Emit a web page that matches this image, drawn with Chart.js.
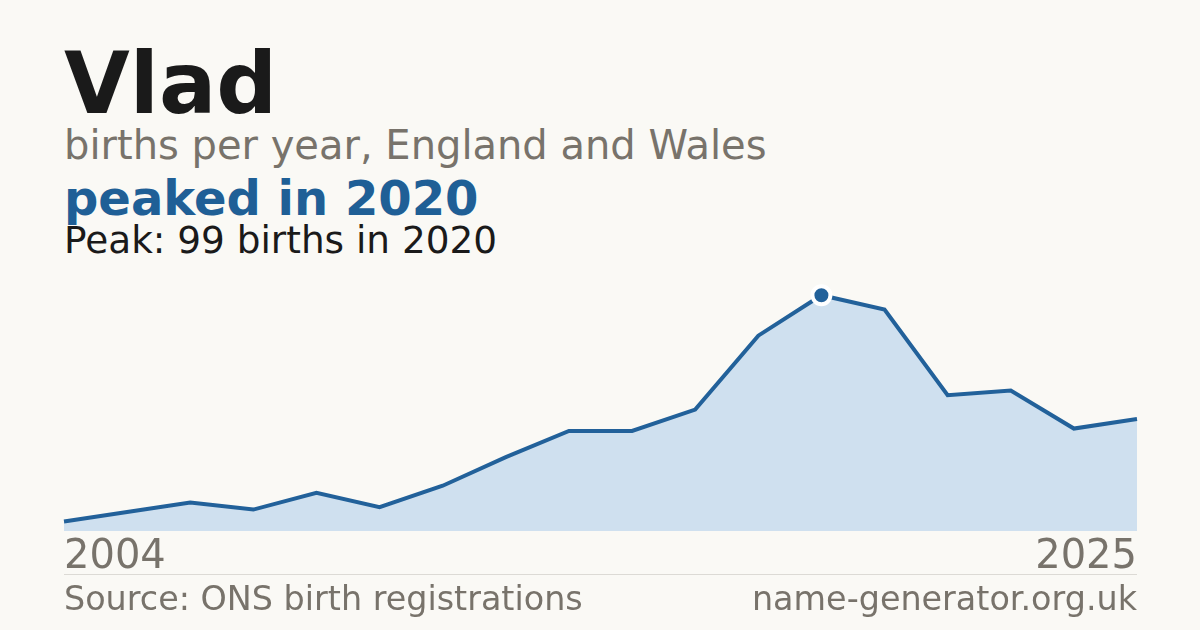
<!DOCTYPE html>
<html lang="en">
<head>
    <meta charset="UTF-8">
    <title>Vlad - births per year</title>
    <script src="https://cdn.jsdelivr.net/npm/chart.js"></script>
    <style>
        body { margin: 0; width: 1200px; height: 630px; background: #faf9f5; font-family: "DejaVu Sans", sans-serif; overflow: hidden; }
        .txt { position: absolute; left: 64px; line-height: 1; white-space: nowrap; }
        #title { top: 41px; font-size: 85px; font-weight: bold; color: #1a1a1a; }
        #subtitle { top: 125px; font-size: 40px; color: #78736b; }
        #headline { top: 174px; font-size: 48px; font-weight: bold; color: #1f5f96; }
        #peakline { top: 222px; font-size: 37.4px; color: #1a1a1a; }
        #rule { position: absolute; left: 64px; top: 574px; width: 1073px; height: 1px; background: #dcdad5; }
        #source { top: 582px; font-size: 33.4px; color: #78736b; }
        #site { top: 582px; left: auto; right: 63px; font-size: 33.4px; color: #78736b; }
        #chartBox { position: absolute; left: 61px; top: 269px; width: 1079px; height: 316px; }
    </style>
</head>
<body>
    <div id="title" class="txt">Vlad</div>
    <div id="subtitle" class="txt">births per year, England and Wales</div>
    <div id="headline" class="txt">peaked in 2020</div>
    <div id="peakline" class="txt">Peak: 99 births in 2020</div>

    <div id="chartBox"><canvas id="birthsChart"></canvas></div>

    <div id="rule"></div>
    <div id="source" class="txt">Source: ONS birth registrations</div>
    <div id="site" class="txt">name-generator.org.uk</div>

    <script>
        // years with published counts (gaps are suppressed years)
        const years = ['2004', '2009', '2010', '2011', '2012', '2013', '2014', '2015', '2016',
                       '2017', '2018', '2019', '2020', '2021', '2022', '2023', '2024', '2025'];
        const births = [4, 8, 12, 9, 16, 10, 19, 31, 42, 42, 51, 82, 99, 93, 57, 59, 43, 47];

        const lineBlue = '#22619a';
        const peakIdx = births.indexOf(Math.max(...births));

        const ctx = document.getElementById('birthsChart').getContext('2d');
        new Chart(ctx, {
            type: 'line',
            data: {
                labels: years,
                datasets: [{
                    data: births,
                    borderColor: lineBlue,
                    borderWidth: 4,
                    backgroundColor: '#cfe0ef',
                    fill: 'origin',
                    tension: 0,
                    pointRadius: births.map((v, i) => i === peakIdx ? 9 : 0),
                    pointBackgroundColor: lineBlue,
                    pointBorderColor: '#ffffff',
                    pointBorderWidth: 4
                }]
            },
            options: {
                responsive: true,
                maintainAspectRatio: false,
                animation: false,
                layout: { padding: 0 },
                plugins: { legend: { display: false }, tooltip: { enabled: false } },
                scales: {
                    x: {
                        grid: { display: false, drawTicks: false },
                        border: { display: false },
                        ticks: {
                            autoSkip: false,
                            maxRotation: 0,
                            align: 'inner',
                            padding: 3,
                            color: '#78736b',
                            font: { family: 'DejaVu Sans', size: 40 },
                            callback: function (val, i) {
                                return (i === 0 || i === years.length - 1) ? years[i] : '';
                            }
                        }
                    },
                    y: {
                        display: false,
                        min: 0,
                        max: 110
                    }
                }
            }
        });
    </script>
</body>
</html>
